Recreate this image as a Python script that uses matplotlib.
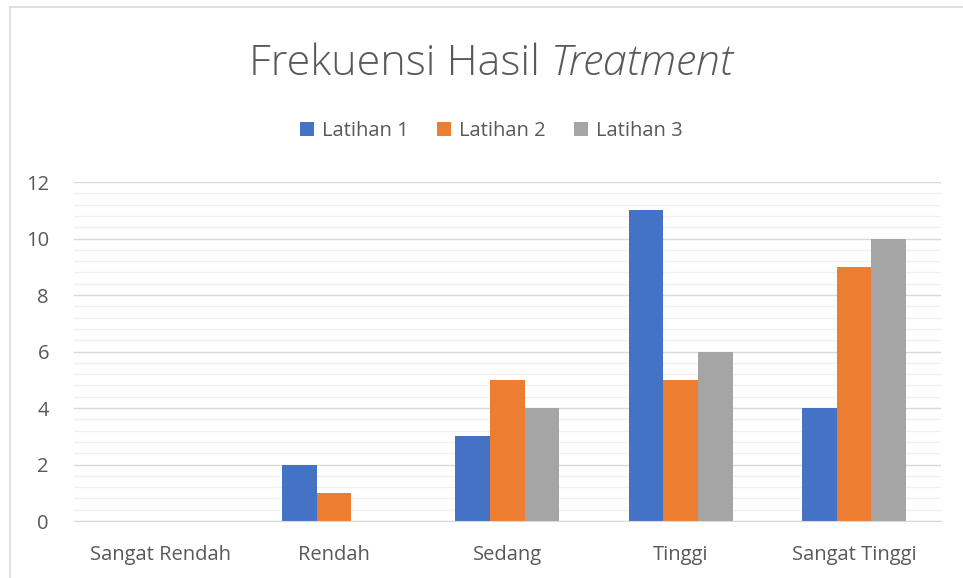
import numpy as np
import matplotlib.pyplot as plt
from matplotlib.ticker import MultipleLocator
from matplotlib.lines import Line2D

categories = ['Sangat Rendah', 'Rendah', 'Sedang', 'Tinggi', 'Sangat Tinggi']
latihan1 = [0, 2, 3, 11, 4]
latihan2 = [0, 1, 5, 5, 9]
latihan3 = [0, 0, 4, 6, 10]
series_names = ['Latihan 1', 'Latihan 2', 'Latihan 3']
colors = ['#4472C4', '#ED7D31', '#A5A5A5']

plt.rcParams['font.family'] = ['Open Sans', 'DejaVu Sans']
text_color = '#595959'

fig = plt.figure(figsize=(9.63, 5.78), dpi=100)
ax = fig.add_axes([0.0768, 0.0986, 0.9002, 0.5865])

x = np.arange(len(categories))
w = 0.2
for i, (vals, name) in enumerate(zip([latihan1, latihan2, latihan3], series_names)):
    ax.bar(x + (i - 1) * w, vals, w, color=colors[i], label=name, zorder=3)

ax.set_xlim(-0.5, len(categories) - 0.5)
ax.set_ylim(0, 12)
ax.yaxis.set_major_locator(MultipleLocator(2))
ax.yaxis.set_minor_locator(MultipleLocator(0.4))
ax.grid(axis='y', which='major', color='#D9D9D9', linewidth=1.0, zorder=0)
ax.grid(axis='y', which='minor', color='#F0F0F0', linewidth=1.0, zorder=0)
ax.set_xticks(x)
ax.set_xticklabels(categories)
ax.tick_params(axis='both', which='both', length=0, labelsize=14.5, colors=text_color)
ax.tick_params(axis='x', pad=17)
ax.tick_params(axis='y', pad=18)
for s in ['top', 'right', 'left']:
    ax.spines[s].set_visible(False)
ax.spines['bottom'].set_color('#D9D9D9')
ax.spines['bottom'].set_zorder(4)

# title: regular part + italic part, centred together
t1 = fig.text(0, 0.889, 'Frekuensi Hasil ', ha='left', va='center', fontsize=31,
              color=text_color, fontweight='light')
t2 = fig.text(0, 0.889, 'Treatment', ha='left', va='center', fontsize=31,
              color=text_color, fontstyle='italic', fontweight='light')
r = fig.canvas.get_renderer()
w1 = t1.get_window_extent(r).width / fig.bbox.width
w2 = t2.get_window_extent(r).width / fig.bbox.width
start = 0.51 - (w1 + w2) / 2
t1.set_x(start)
t2.set_x(start + w1)

fig.legend(loc='center', bbox_to_anchor=(0.51, 0.773), ncol=3, frameon=False,
           fontsize=14.5, labelcolor=text_color, handlelength=0.7, handleheight=0.7,
           handletextpad=0.4, columnspacing=1.4)

# chart border (only left and top visible in the crop)
fig.add_artist(Line2D([0.0105, 0.0105], [0, 0.988], transform=fig.transFigure, color='#D9D9D9', lw=1.2))
fig.add_artist(Line2D([0.0105, 1.0], [0.988, 0.988], transform=fig.transFigure, color='#D9D9D9', lw=1.2))

fig.savefig('out.png', dpi=100)
